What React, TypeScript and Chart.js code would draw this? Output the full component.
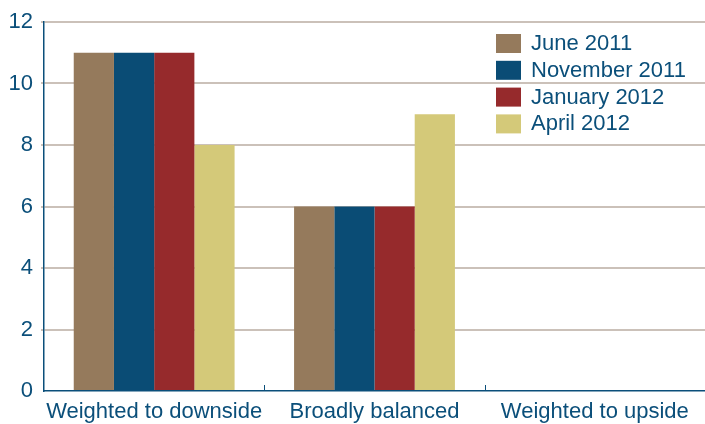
import React, { useEffect, useRef } from "react";
import { Chart, registerables } from "chart.js";

Chart.register(...registerables);

const categories = ["Weighted to downside", "Broadly balanced", "Weighted to upside"];
const seriesLabels = ["June 2011", "November 2011", "January 2012", "April 2012"];
const june2011 = [11, 6, 0];
const november2011 = [11, 6, 0];
const january2012 = [11, 6, 0];
const april2012 = [8, 9, 0];
const seriesColors = ["#957a5c", "#0a4c75", "#962a2c", "#d4c979"];
const yTicks = [0, 2, 4, 6, 8, 10, 12];

const TEXT_COLOR = "#0b4f7a";
const FONT = "'Liberation Sans', Arial, sans-serif";

// Legend drawn over the top-right of the plot area
const insideLegend = {
  id: "insideLegend",
  afterDraw(chart: any) {
    const ctx = chart.ctx;
    const x0 = 496;
    const y0 = 34;
    const step = 26.8;
    ctx.save();
    ctx.font = `22px ${FONT}`;
    ctx.textBaseline = "middle";
    ctx.textAlign = "left";
    chart.data.datasets.forEach((ds: any, i: number) => {
      const y = y0 + i * step;
      ctx.fillStyle = ds.backgroundColor;
      ctx.fillRect(x0, y, 25, 19);
      ctx.fillStyle = TEXT_COLOR;
      ctx.fillText(ds.label, x0 + 35, y + 10);
    });
    ctx.restore();
  },
};

// Short upward ticks on the category axis between groups
const categoryTicks = {
  id: "categoryTicks",
  afterDraw(chart: any) {
    const xs = chart.scales.x;
    const bottom = chart.chartArea.bottom;
    const ctx = chart.ctx;
    ctx.save();
    ctx.strokeStyle = TEXT_COLOR;
    ctx.lineWidth = 1;
    for (let i = 0; i < categories.length - 1; i++) {
      const px = Math.round((xs.getPixelForValue(i) + xs.getPixelForValue(i + 1)) / 2) + 0.5;
      ctx.beginPath();
      ctx.moveTo(px, bottom);
      ctx.lineTo(px, bottom - 6);
      ctx.stroke();
    }
    ctx.restore();
  },
};

export default function App() {
  const canvasRef = useRef<HTMLCanvasElement | null>(null);

  useEffect(() => {
    if (!canvasRef.current) return;
    const series = [june2011, november2011, january2012, april2012];
    const chart = new Chart(canvasRef.current, {
      type: "bar",
      data: {
        labels: categories,
        datasets: series.map((values, i) => ({
          label: seriesLabels[i],
          data: values,
          backgroundColor: seriesColors[i],
          borderWidth: 0,
          barPercentage: 1,
          categoryPercentage: 0.73,
        })),
      },
      options: {
        animation: false,
        responsive: false,
        maintainAspectRatio: false,
        layout: { padding: { top: 22, right: -3, left: 0, bottom: 0 } },
        plugins: {
          legend: { display: false },
          tooltip: { enabled: false },
        },
        scales: {
          x: {
            grid: { display: false, drawTicks: false },
            border: { display: true, color: TEXT_COLOR, width: 1.5 },
            ticks: {
              color: TEXT_COLOR,
              font: { family: FONT, size: 22 },
              padding: 8,
              maxRotation: 0,
              autoSkip: false,
            },
            afterFit(scale: any) {
              scale.height = 33;
            },
          },
          y: {
            min: 0,
            max: 12,
            afterBuildTicks(scale: any) {
              scale.ticks = yTicks.map((v) => ({ value: v }));
            },
            grid: {
              color: (c: any) => (c.tick && c.tick.value === 0 ? "rgba(0,0,0,0)" : "#cbc1b9"),
              lineWidth: 2,
              drawTicks: true,
              tickLength: 3,
            },
            border: { display: true, color: TEXT_COLOR, width: 1.5 },
            ticks: {
              color: TEXT_COLOR,
              font: { family: FONT, size: 22 },
              padding: 8,
            },
            afterFit(scale: any) {
              scale.width = 44;
            },
          },
        },
      },
      plugins: [insideLegend, categoryTicks],
    });
    return () => chart.destroy();
  }, []);

  return (
    <div style={{ position: "fixed", left: 0, top: 0, width: 705, height: 424, background: "#fff" }}>
      <canvas ref={canvasRef} width={705} height={424} style={{ display: "block" }} />
    </div>
  );
}
